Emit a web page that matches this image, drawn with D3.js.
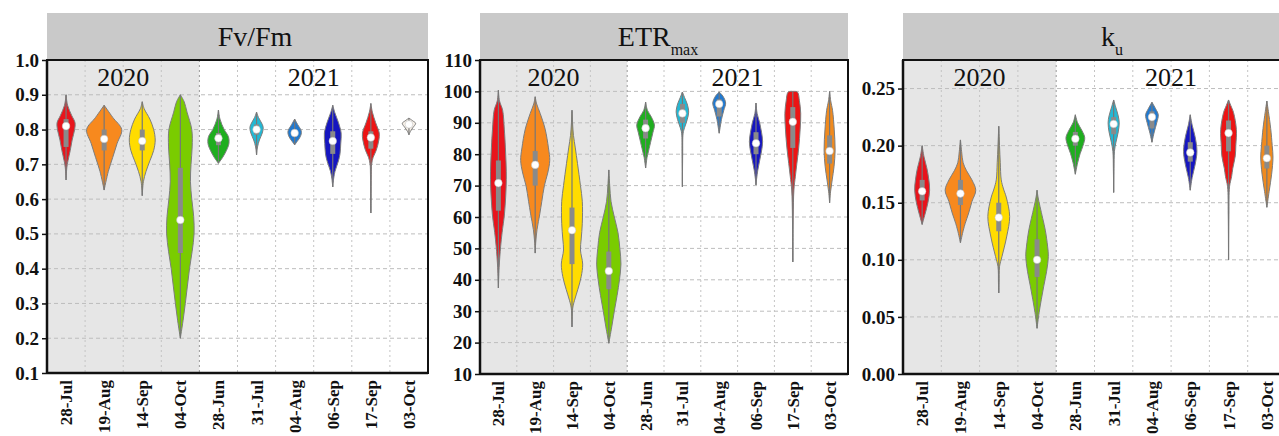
<!DOCTYPE html>
<html>
<head>
<meta charset="utf-8">
<script src="https://cdn.jsdelivr.net/npm/d3@7"></script>
<style>
  html, body { margin: 0; padding: 0; background: #fff; }
  svg { display: block; font-family: "Liberation Serif", "Times New Roman", serif; }
</style>
</head>
<body>
<svg id="chart" width="1279" height="436"></svg>
<script>
// Sampling dates (2020 season, then 2021 season)
const dates = ["28-Jul", "19-Aug", "14-Sep", "04-Oct", "28-Jun", "31-Jul", "04-Aug", "06-Sep", "17-Sep", "03-Oct"];
const seasons = [
  { label: "2020", first: 0, last: 3 },
  { label: "2021", first: 4, last: 9 }
];
const dateColors = ["#e8141c", "#f7891e", "#ffdc00", "#7acc00", "#1fae1f", "#22b8d4", "#2079d0", "#1616c0", "#ec1414", "#f08a1e"];

// Violin outlines: [value, relative density] from the upper tail to the lower tail
const fvfmProfiles = [
  [[0.90,0],[0.87,0.08],[0.84,0.3],[0.82,0.47],[0.80,0.45],[0.77,0.32],[0.74,0.22],[0.71,0.1],[0.69,0.04],[0.655,0]],
  [[0.87,0],[0.835,0.45],[0.80,0.92],[0.76,0.68],[0.72,0.45],[0.68,0.22],[0.626,0]],
  [[0.88,0],[0.86,0.1],[0.83,0.4],[0.80,0.6],[0.77,0.68],[0.74,0.6],[0.71,0.4],[0.68,0.2],[0.65,0.06],[0.61,0]],
  [[0.90,0],[0.88,0.2],[0.85,0.35],[0.80,0.6],[0.75,0.62],[0.70,0.56],[0.65,0.53],[0.60,0.6],[0.55,0.7],[0.50,0.72],[0.45,0.62],[0.40,0.48],[0.35,0.37],[0.30,0.26],[0.25,0.14],[0.20,0]],
  [[0.856,0],[0.83,0.08],[0.80,0.3],[0.78,0.52],[0.76,0.55],[0.74,0.42],[0.72,0.22],[0.703,0]],
  [[0.85,0],[0.835,0.1],[0.815,0.3],[0.805,0.35],[0.79,0.3],[0.77,0.15],[0.75,0.05],[0.727,0]],
  [[0.83,0],[0.815,0.15],[0.795,0.35],[0.78,0.3],[0.765,0.12],[0.756,0]],
  [[0.87,0],[0.85,0.1],[0.82,0.3],[0.79,0.44],[0.76,0.42],[0.73,0.38],[0.71,0.3],[0.68,0.12],[0.66,0.05],[0.635,0]],
  [[0.875,0],[0.85,0.08],[0.82,0.25],[0.79,0.44],[0.77,0.42],[0.74,0.28],[0.72,0.12],[0.70,0.04],[0.67,0.02],[0.60,0.01],[0.56,0]],
  [[0.833,0],[0.825,0.2],[0.818,0.35],[0.805,0.2],[0.795,0.08],[0.785,0]]
];
const fvfmMedian = [0.81, 0.773, 0.767, 0.54, 0.775, 0.80, 0.79, 0.767, 0.777, 0.815];
const fvfmQ1 = [0.75, 0.74, 0.74, 0.445, 0.755, 0.785, 0.78, 0.73, 0.745, 0.81];
const fvfmQ3 = [0.83, 0.80, 0.80, 0.69, 0.79, 0.815, 0.80, 0.795, 0.795, 0.82];
const fvfmTicks = [0.1, 0.2, 0.3, 0.4, 0.5, 0.6, 0.7, 0.8, 0.9, 1.0];

const etrProfiles = [
  [[100.4,0],[97,0.06],[94,0.23],[88,0.32],[82,0.38],[72,0.43],[61,0.33],[55,0.2],[50.5,0.12],[44,0.04],[37.4,0]],
  [[98.3,0],[96,0.08],[93,0.27],[88,0.54],[82,0.72],[78,0.79],[74,0.68],[70,0.5],[65,0.36],[61,0.25],[56,0.1],[52,0.03],[48.5,0]],
  [[94,0],[90,0.03],[86,0.08],[82,0.18],[77,0.3],[70,0.46],[65,0.56],[58,0.56],[53,0.5],[49.5,0.46],[45,0.58],[41,0.5],[37,0.32],[33.5,0.14],[31,0.04],[25,0]],
  [[75,0],[70,0.05],[65,0.12],[60,0.3],[55,0.5],[50,0.6],[45,0.66],[40,0.58],[35,0.45],[30,0.3],[25,0.16],[19.8,0]],
  [[96.6,0],[94,0.1],[92,0.3],[89.3,0.48],[87,0.4],[84.5,0.3],[81,0.16],[79,0.08],[75.6,0]],
  [[99.8,0],[98,0.12],[96,0.26],[93.4,0.34],[91,0.26],[88.5,0.12],[86.7,0.04],[80,0.015],[69.6,0]],
  [[99.8,0],[98.5,0.2],[96.3,0.35],[94,0.25],[91,0.12],[88.5,0.05],[86.7,0]],
  [[96.3,0],[93,0.06],[90,0.2],[87,0.3],[84,0.36],[81,0.3],[78,0.2],[75,0.1],[72,0.03],[70.2,0]],
  [[100,0],[99.8,0.25],[97,0.36],[93,0.43],[88,0.4],[82,0.32],[77,0.22],[73,0.14],[68.6,0.06],[60,0.02],[50,0.01],[45.7,0]],
  [[100,0],[97,0.06],[94,0.16],[88,0.25],[81.3,0.3],[76,0.24],[71.8,0.14],[68,0.05],[64.5,0]]
];
const etrMedian = [70.8, 76.6, 55.8, 42.8, 88.3, 93, 96, 83.5, 90.3, 81];
const etrQ1 = [62, 70, 45, 37, 85, 90, 92, 80, 82, 77];
const etrQ3 = [78, 81, 63, 49, 91, 96, 97.5, 87, 95, 86];
const etrTicks = [10, 20, 30, 40, 50, 60, 70, 80, 90, 100, 110];

const kuProfiles = [
  [[0.200,0],[0.19,0.1],[0.18,0.25],[0.17,0.35],[0.161,0.39],[0.15,0.3],[0.14,0.15],[0.131,0]],
  [[0.205,0],[0.195,0.06],[0.185,0.14],[0.178,0.32],[0.17,0.6],[0.161,0.8],[0.151,0.6],[0.141,0.43],[0.132,0.25],[0.126,0.15],[0.115,0]],
  [[0.217,0],[0.20,0.04],[0.185,0.08],[0.17,0.13],[0.162,0.25],[0.155,0.39],[0.138,0.57],[0.12,0.41],[0.103,0.17],[0.094,0.04],[0.08,0.015],[0.071,0]],
  [[0.161,0],[0.155,0.05],[0.147,0.15],[0.136,0.3],[0.126,0.43],[0.112,0.55],[0.103,0.59],[0.09,0.5],[0.077,0.35],[0.065,0.22],[0.054,0.11],[0.04,0]],
  [[0.227,0],[0.22,0.12],[0.213,0.35],[0.207,0.49],[0.20,0.4],[0.193,0.25],[0.185,0.12],[0.175,0]],
  [[0.240,0],[0.233,0.12],[0.226,0.24],[0.22,0.29],[0.212,0.24],[0.203,0.12],[0.195,0.04],[0.18,0.015],[0.159,0]],
  [[0.238,0],[0.232,0.2],[0.227,0.33],[0.22,0.25],[0.212,0.12],[0.203,0]],
  [[0.227,0],[0.218,0.1],[0.208,0.25],[0.195,0.35],[0.183,0.25],[0.172,0.1],[0.161,0]],
  [[0.24,0],[0.235,0.12],[0.229,0.26],[0.214,0.41],[0.2,0.38],[0.191,0.35],[0.18,0.22],[0.173,0.16],[0.164,0.05],[0.14,0.015],[0.10,0]],
  [[0.239,0],[0.23,0.08],[0.215,0.2],[0.2,0.28],[0.19,0.32],[0.175,0.25],[0.16,0.12],[0.146,0]]
];
const kuMedian = [0.16, 0.158, 0.137, 0.1, 0.206, 0.219, 0.225, 0.194, 0.211, 0.189];
const kuQ1 = [0.152, 0.148, 0.125, 0.085, 0.2, 0.21, 0.215, 0.186, 0.195, 0.18];
const kuQ3 = [0.17, 0.17, 0.15, 0.118, 0.212, 0.225, 0.23, 0.203, 0.222, 0.2];
const kuTicks = [0.00, 0.05, 0.10, 0.15, 0.20, 0.25];

const svg = d3.select("#chart");

const panels = [
  { title: "Fv/Fm", sub: null, titleX: 255,
    x0: 47, x1: 428, y0: 60, y1: 373, domain: [0.1, 1.0], ticks: fvfmTicks, fmt: d3.format(".1f"),
    profiles: fvfmProfiles, median: fvfmMedian, q1: fvfmQ1, q3: fvfmQ3,
    fills: dateColors.map((c, i) => i === 9 ? "#f6efe6" : c) },
  { title: "ETR", sub: "max", titleX: 658,
    x0: 480, x1: 848, y0: 60, y1: 374, domain: [10, 110], ticks: etrTicks, fmt: d3.format("d"),
    profiles: etrProfiles, median: etrMedian, q1: etrQ1, q3: etrQ3, fills: dateColors },
  { title: "k", sub: "u", titleX: 1112,
    x0: 903, x1: 1286, y0: 60, y1: 374, domain: [0, 0.275], ticks: kuTicks, fmt: d3.format(".2f"),
    profiles: kuProfiles, median: kuMedian, q1: kuQ1, q3: kuQ3, fills: dateColors }
];

panels.forEach(p => {
  const g = svg.append("g");
  const x = d3.scaleBand().domain(dates).range([p.x0, p.x1]).paddingInner(0).paddingOuter(0);
  const y = d3.scaleLinear().domain(p.domain).range([p.y1, p.y0]);
  const half = d3.scaleLinear().domain([0, 1]).range([0, x.bandwidth() / 2]);
  const cx = d => x(d) + x.bandwidth() / 2;

  // strip header
  g.append("rect")
    .attr("x", p.x0).attr("y", 13).attr("width", p.x1 - p.x0).attr("height", p.y0 - 13)
    .attr("fill", "#c9c9c9");
  const t = g.append("text")
    .attr("x", p.titleX).attr("y", 46)
    .attr("text-anchor", "middle")
    .attr("font-size", 28).attr("fill", "#111")
    .text(p.title);
  if (p.sub) t.append("tspan").attr("dy", 9).attr("font-size", 16).text(p.sub);

  // plot background: shaded first season
  g.append("rect")
    .attr("x", p.x0).attr("y", p.y0).attr("width", p.x1 - p.x0).attr("height", p.y1 - p.y0)
    .attr("fill", "#fff");
  const s0 = seasons[0];
  g.append("rect")
    .attr("x", x(dates[s0.first])).attr("y", p.y0)
    .attr("width", x(dates[s0.last]) + x.bandwidth() - x(dates[s0.first]))
    .attr("height", p.y1 - p.y0)
    .attr("fill", "#e6e6e6");

  // grid
  g.append("g").selectAll("line").data(p.ticks).join("line")
    .attr("x1", p.x0).attr("x2", p.x1)
    .attr("y1", d => y(d)).attr("y2", d => y(d))
    .attr("stroke", "#bdbdbd").attr("stroke-width", 1).attr("stroke-dasharray", "4,3");
  g.append("g").selectAll("line").data(dates.slice(1)).join("line")
    .attr("x1", d => x(d)).attr("x2", d => x(d))
    .attr("y1", p.y0).attr("y2", p.y1)
    .attr("stroke", d => d === dates[seasons[1].first] ? "#9a9a9a" : "#c4c4c4")
    .attr("stroke-width", 1).attr("stroke-dasharray", "2,3");

  // season labels
  g.append("g").selectAll("text").data(seasons).join("text")
    .attr("x", s => (x(dates[s.first]) + x(dates[s.last]) + x.bandwidth()) / 2)
    .attr("y", 86)
    .attr("text-anchor", "middle").attr("font-size", 26).attr("fill", "#111")
    .text(s => s.label);

  // violins
  const area = d3.area()
    .curve(d3.curveCatmullRom.alpha(0.5))
    .y(d => y(d[0]));
  const vg = g.append("g");
  dates.forEach((d, i) => {
    const c = cx(d);
    const prof = p.profiles[i];
    vg.append("path")
      .datum(prof)
      .attr("d", area.x0(v => c - half(v[1])).x1(v => c + half(v[1])))
      .attr("fill", p.fills[i])
      .attr("stroke", "#7d7d7d").attr("stroke-width", 1);
    const hi = d3.max(prof, v => v[0]), lo = d3.min(prof, v => v[0]);
    vg.append("line")
      .attr("x1", c).attr("x2", c).attr("y1", y(hi)).attr("y2", y(lo))
      .attr("stroke", "#777").attr("stroke-width", 1.2);
    vg.append("rect")
      .attr("x", c - 2.5).attr("width", 5)
      .attr("y", y(p.q3[i])).attr("height", y(p.q1[i]) - y(p.q3[i]))
      .attr("fill", "#8a8a8a");
    vg.append("circle")
      .attr("cx", c).attr("cy", y(p.median[i])).attr("r", 3.8)
      .attr("fill", "#fff").attr("stroke", "#bbb").attr("stroke-width", 0.5);
  });

  // frame
  g.append("rect")
    .attr("x", p.x0).attr("y", p.y0).attr("width", p.x1 - p.x0).attr("height", p.y1 - p.y0)
    .attr("fill", "none").attr("stroke", "#111").attr("stroke-width", 2);
  g.append("line").attr("x1", p.x0).attr("x2", p.x1).attr("y1", p.y1).attr("y2", p.y1)
    .attr("stroke", "#111").attr("stroke-width", 2.5);
  g.append("line").attr("x1", p.x0).attr("x2", p.x0).attr("y1", p.y0).attr("y2", p.y1)
    .attr("stroke", "#111").attr("stroke-width", 2.5);

  // y axis
  const ya = g.append("g").attr("transform", `translate(${p.x0},0)`)
    .call(d3.axisLeft(y).tickValues(p.ticks).tickFormat(p.fmt).tickSize(5).tickPadding(3));
  ya.select(".domain").remove();
  ya.selectAll(".tick line").attr("stroke", "#111").attr("stroke-width", 1.5);
  ya.selectAll(".tick text")
    .attr("font-family", "'Liberation Serif', serif")
    .attr("font-weight", "bold").attr("font-size", 19).attr("fill", "#111");

  // x labels
  g.append("g").selectAll("text").data(dates).join("text")
    .attr("transform", d => `translate(${cx(d)},${p.y1 + 7}) rotate(-90)`)
    .attr("text-anchor", "end").attr("dy", "0.35em")
    .attr("font-weight", "bold").attr("font-size", 17).attr("fill", "#111")
    .text(d => d);
});
</script>
</body>
</html>
